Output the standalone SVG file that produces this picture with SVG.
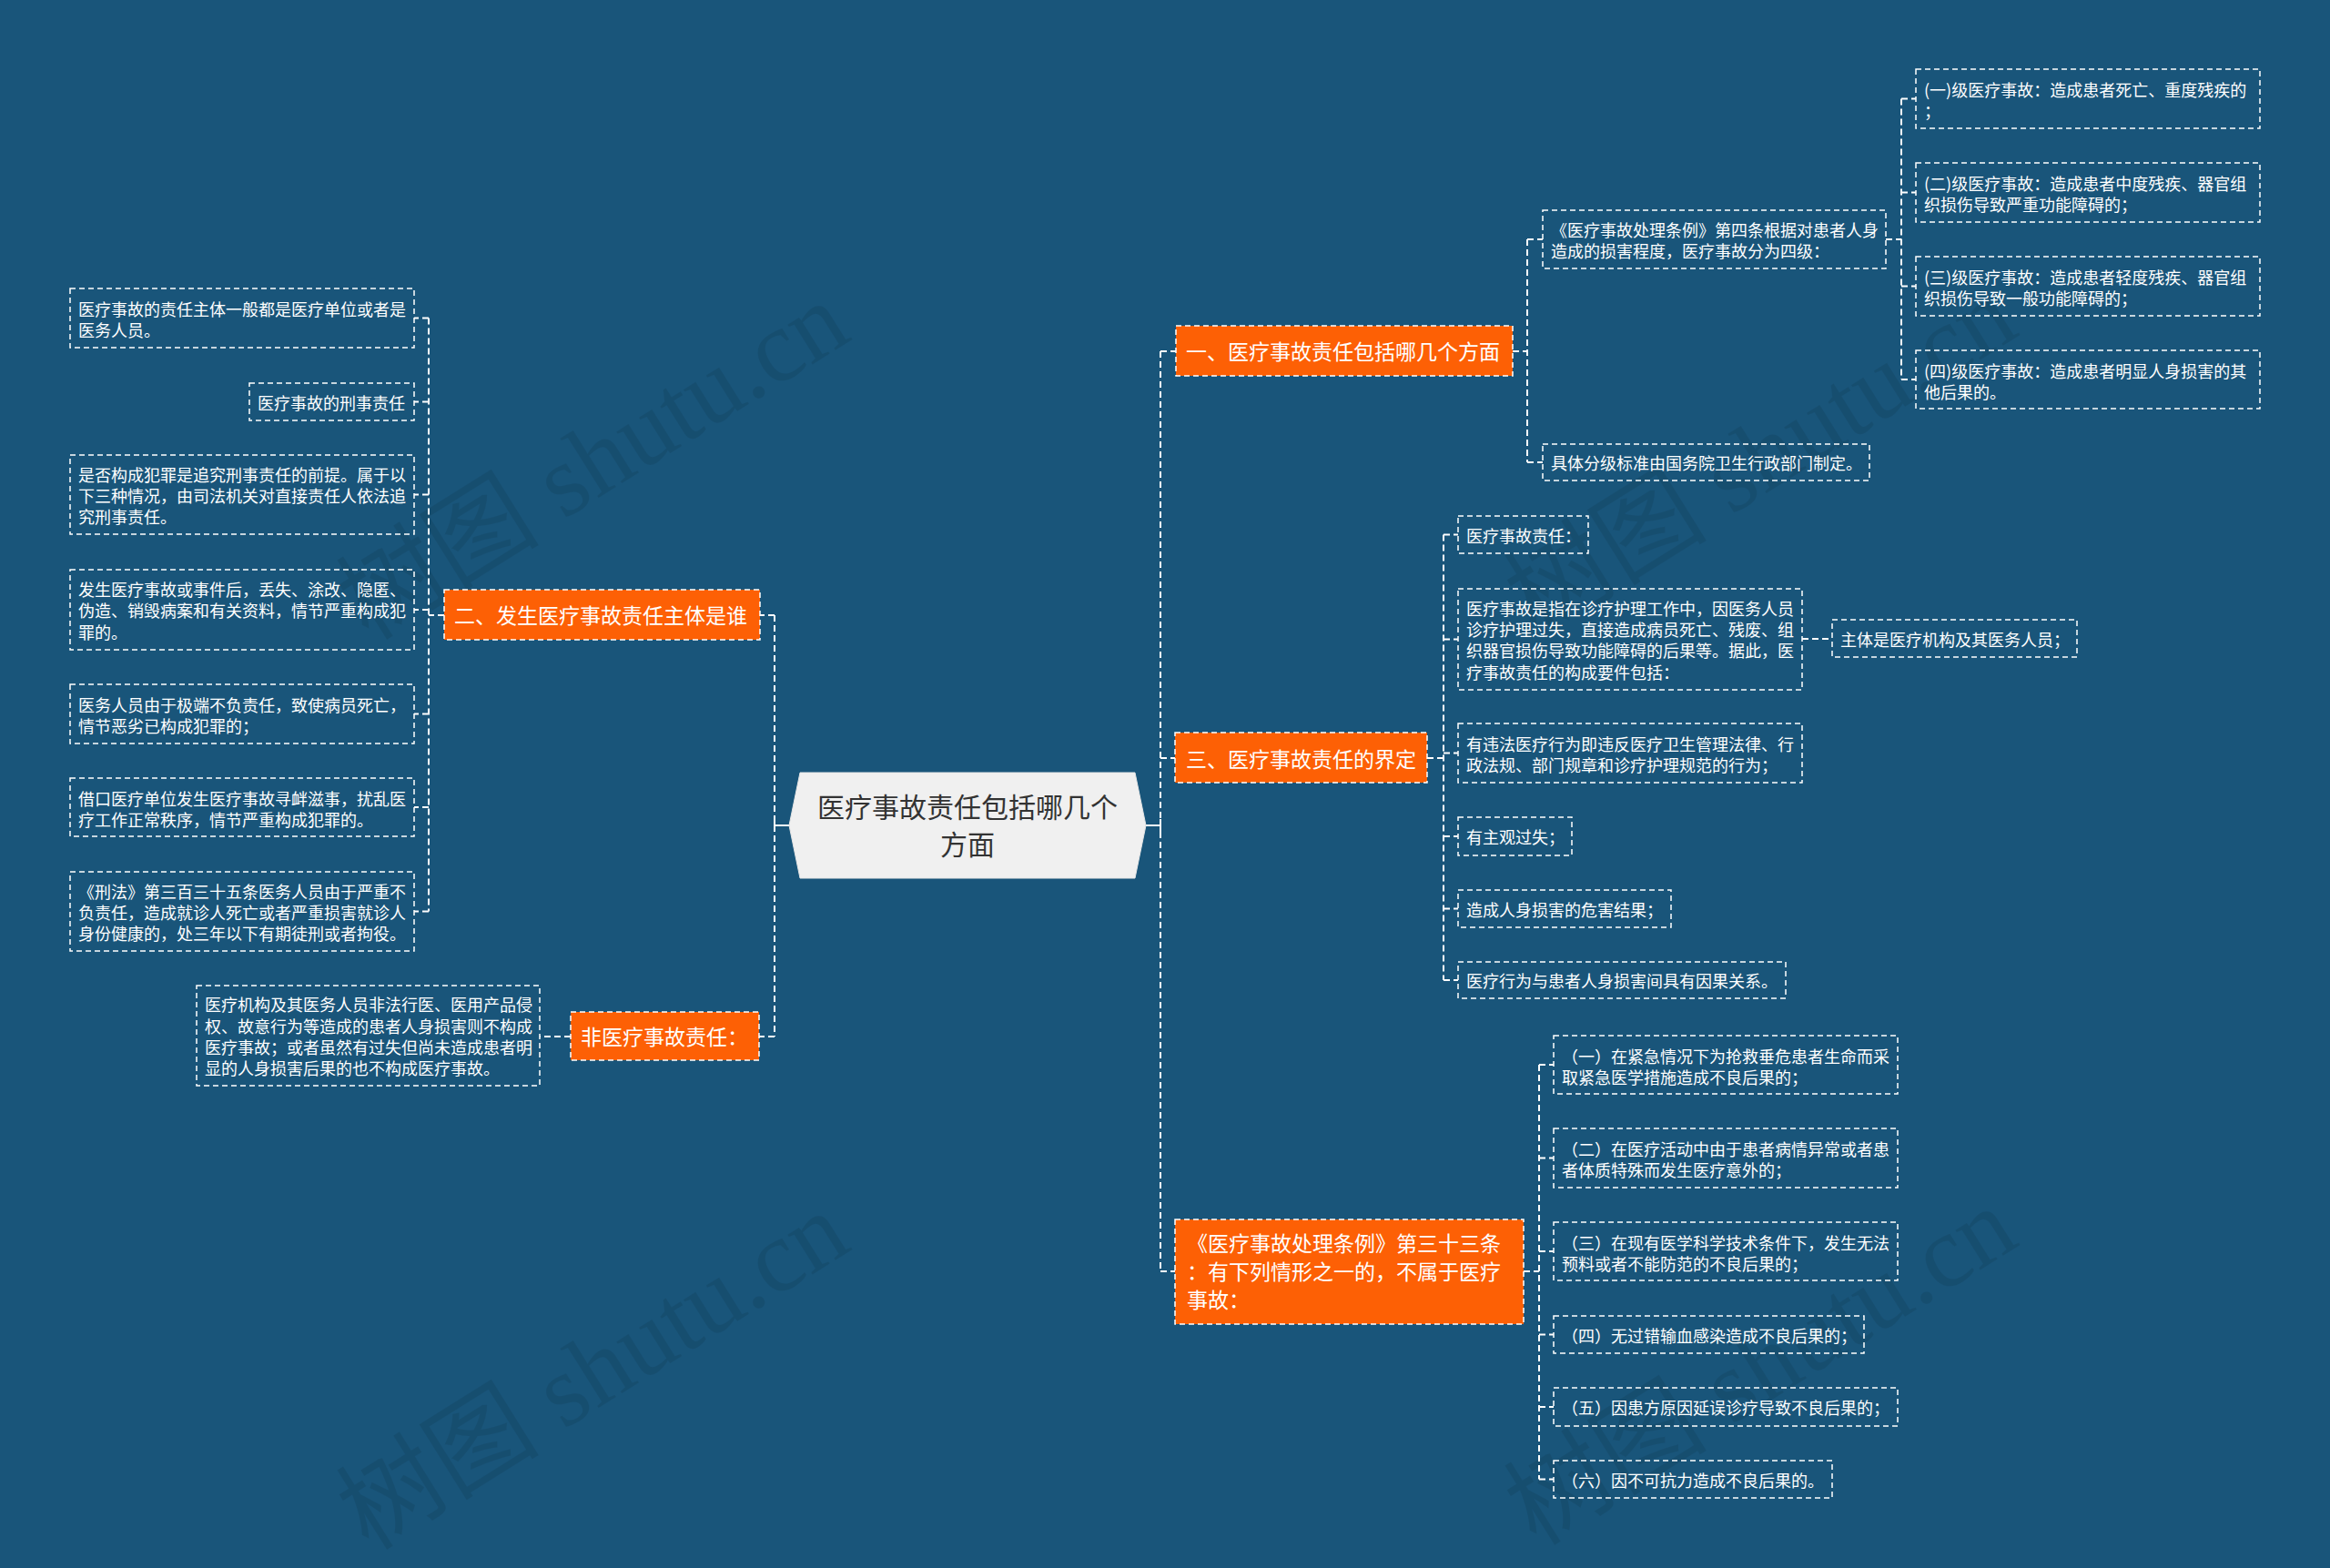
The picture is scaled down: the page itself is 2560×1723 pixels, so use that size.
<svg xmlns="http://www.w3.org/2000/svg" width="2560" height="1723" viewBox="0 0 2560 1723">
<style>
.t{font-family:"Noto Sans CJK SC","Noto Sans",sans-serif;fill:#ffffff;font-size:18px}
.ot{font-family:"Noto Sans CJK SC","Noto Sans",sans-serif;fill:#ffffff;font-size:23px}
.ct{font-family:"Noto Sans CJK SC","Noto Sans",sans-serif;fill:#333333;font-size:30px}
.b{fill:none;stroke:#ffffff;stroke-width:1.5;stroke-dasharray:6 4}
.o{fill:#fd6005;stroke:#ffffff;stroke-width:1.5;stroke-dasharray:6 4}
.c{fill:none;stroke:#ffffff;stroke-width:2;stroke-dasharray:7 4}
.s{fill:none;stroke:#ffffff;stroke-width:2}
.wm{font-family:"Liberation Serif","Noto Sans CJK SC",serif;font-size:112px;fill:#000000;opacity:0.08}
</style>
<rect x="0" y="0" width="2560" height="1723" fill="#19557a"/>
<g id="watermarks">
<text class="wm" transform="translate(405,705) rotate(-32)">树图 shutu.cn</text>
<text class="wm" transform="translate(1688,700) rotate(-32)">树图 shutu.cn</text>
<text class="wm" transform="translate(405,1705) rotate(-32)">树图 shutu.cn</text>
<text class="wm" transform="translate(1688,1700) rotate(-32)">树图 shutu.cn</text>
</g>
<g id="connectors">
<path class="s" d="M1259,907 H1275 M1275,900 V914 M867,907 H851 M851,900 V914"/>
<path class="c" d="M1275,386 V1397 M1275,386 H1292 M1275,833 H1291 M1275,1397 H1291"/>
<path class="c" d="M851,676 V1139 M851,676 H835 M851,1139 H834"/>
<path class="c" d="M1662,386 H1678 M1678,263 V508 M1678,263 H1695 M1678,508 H1695"/>
<path class="c" d="M2072,263 H2089 M2089,108.5 V417 M2089,108.5 H2105 M2089,211.5 H2105 M2089,314.5 H2105 M2089,417 H2105"/>
<path class="c" d="M1568,833 H1586 M1586,587.5 V1077 M1586,587.5 H1602 M1586,702.5 H1602 M1586,827.5 H1602 M1586,919 H1602 M1586,998.5 H1602 M1586,1077 H1602"/>
<path class="c" d="M1980,702 H2013"/>
<path class="c" d="M1674,1397 H1691 M1691,1170 V1625.5 M1691,1170 H1707 M1691,1272.5 H1707 M1691,1375 H1707 M1691,1466.5 H1707 M1691,1546 H1707 M1691,1625.5 H1707"/>
<path class="c" d="M488,676 H471 M471,349.5 V1001.5 M471,349.5 H455 M471,441.5 H455 M471,543.5 H455 M471,670 H455 M471,784.5 H455 M471,887 H455 M471,1001.5 H455"/>
<path class="c" d="M627,1139 H593"/>
</g>
<g id="center">
<polygon points="879,849 1247,849 1259,907 1247,965 879,965 867,907" fill="#f0f0f0" stroke="#e6e6e6" stroke-width="1"/>
<text class="ct" x="1063" y="898" text-anchor="middle">医疗事故责任包括哪几个</text>
<text class="ct" x="1063" y="939" text-anchor="middle">方面</text>
</g>
<g id="n1">
<rect class="o" x="1292" y="358" width="370" height="55"/>
<text class="ot" x="1303" y="395">一、医疗事故责任包括哪几个方面</text>
</g>
<g id="n1a">
<rect class="b" x="1695" y="231" width="377" height="64"/>
<text class="t" x="1704" y="260">《医疗事故处理条例》第四条根据对患者人身</text>
<text class="t" x="1704" y="283">造成的损害程度，医疗事故分为四级：</text>
</g>
<g id="n1a1">
<rect class="b" x="2105" y="76" width="378" height="65"/>
<text class="t" x="2114" y="106">(一)级医疗事故：造成患者死亡、重度残疾的</text>
<text class="t" x="2114" y="129">；</text>
</g>
<g id="n1a2">
<rect class="b" x="2105" y="179" width="378" height="65"/>
<text class="t" x="2114" y="209">(二)级医疗事故：造成患者中度残疾、器官组</text>
<text class="t" x="2114" y="232">织损伤导致严重功能障碍的；</text>
</g>
<g id="n1a3">
<rect class="b" x="2105" y="282" width="378" height="65"/>
<text class="t" x="2114" y="312">(三)级医疗事故：造成患者轻度残疾、器官组</text>
<text class="t" x="2114" y="335">织损伤导致一般功能障碍的；</text>
</g>
<g id="n1a4">
<rect class="b" x="2105" y="385" width="378" height="64"/>
<text class="t" x="2114" y="415">(四)级医疗事故：造成患者明显人身损害的其</text>
<text class="t" x="2114" y="438">他后果的。</text>
</g>
<g id="n1b">
<rect class="b" x="1695" y="488" width="359" height="40"/>
<text class="t" x="1704" y="516">具体分级标准由国务院卫生行政部门制定。</text>
</g>
<g id="n3">
<rect class="o" x="1291" y="805" width="277" height="55"/>
<text class="ot" x="1303" y="843">三、医疗事故责任的界定</text>
</g>
<g id="n3a">
<rect class="b" x="1602" y="567" width="143" height="41"/>
<text class="t" x="1611" y="596">医疗事故责任：</text>
</g>
<g id="n3b">
<rect class="b" x="1602" y="647" width="378" height="111"/>
<text class="t" x="1611" y="676">医疗事故是指在诊疗护理工作中，因医务人员</text>
<text class="t" x="1611" y="699">诊疗护理过失，直接造成病员死亡、残废、组</text>
<text class="t" x="1611" y="722">织器官损伤导致功能障碍的后果等。据此，医</text>
<text class="t" x="1611" y="746">疗事故责任的构成要件包括：</text>
</g>
<g id="n3b1">
<rect class="b" x="2013" y="681" width="269" height="41"/>
<text class="t" x="2022" y="710">主体是医疗机构及其医务人员；</text>
</g>
<g id="n3c">
<rect class="b" x="1602" y="795" width="378" height="65"/>
<text class="t" x="1611" y="825">有违法医疗行为即违反医疗卫生管理法律、行</text>
<text class="t" x="1611" y="848">政法规、部门规章和诊疗护理规范的行为；</text>
</g>
<g id="n3d">
<rect class="b" x="1602" y="898" width="125" height="42"/>
<text class="t" x="1611" y="927">有主观过失；</text>
</g>
<g id="n3e">
<rect class="b" x="1602" y="978" width="234" height="41"/>
<text class="t" x="1611" y="1007">造成人身损害的危害结果；</text>
</g>
<g id="n3f">
<rect class="b" x="1602" y="1057" width="360" height="40"/>
<text class="t" x="1611" y="1085">医疗行为与患者人身损害间具有因果关系。</text>
</g>
<g id="n4">
<rect class="o" x="1291" y="1340" width="383" height="115"/>
<text class="ot" x="1304" y="1375">《医疗事故处理条例》第三十三条</text>
<text class="ot" x="1304" y="1406">：有下列情形之一的，不属于医疗</text>
<text class="ot" x="1304" y="1437">事故：</text>
</g>
<g id="n4a">
<rect class="b" x="1707" y="1138" width="378" height="64"/>
<text class="t" x="1716" y="1168">（一）在紧急情况下为抢救垂危患者生命而采</text>
<text class="t" x="1716" y="1191">取紧急医学措施造成不良后果的；</text>
</g>
<g id="n4b">
<rect class="b" x="1707" y="1240" width="378" height="65"/>
<text class="t" x="1716" y="1270">（二）在医疗活动中由于患者病情异常或者患</text>
<text class="t" x="1716" y="1293">者体质特殊而发生医疗意外的；</text>
</g>
<g id="n4c">
<rect class="b" x="1707" y="1343" width="378" height="64"/>
<text class="t" x="1716" y="1373">（三）在现有医学科学技术条件下，发生无法</text>
<text class="t" x="1716" y="1396">预料或者不能防范的不良后果的；</text>
</g>
<g id="n4d">
<rect class="b" x="1707" y="1446" width="341" height="41"/>
<text class="t" x="1716" y="1475">（四）无过错输血感染造成不良后果的；</text>
</g>
<g id="n4e">
<rect class="b" x="1707" y="1525" width="378" height="42"/>
<text class="t" x="1716" y="1554">（五）因患方原因延误诊疗导致不良后果的；</text>
</g>
<g id="n4f">
<rect class="b" x="1707" y="1605" width="306" height="41"/>
<text class="t" x="1716" y="1634">（六）因不可抗力造成不良后果的。</text>
</g>
<g id="n2">
<rect class="o" x="488" y="648" width="347" height="55"/>
<text class="ot" x="499" y="685">二、发生医疗事故责任主体是谁</text>
</g>
<g id="n2a">
<rect class="b" x="77" y="317" width="378" height="65"/>
<text class="t" x="86" y="347">医疗事故的责任主体一般都是医疗单位或者是</text>
<text class="t" x="86" y="370">医务人员。</text>
</g>
<g id="n2b">
<rect class="b" x="274" y="421" width="181" height="41"/>
<text class="t" x="283" y="450">医疗事故的刑事责任</text>
</g>
<g id="n2c">
<rect class="b" x="77" y="500" width="378" height="87"/>
<text class="t" x="86" y="529">是否构成犯罪是追究刑事责任的前提。属于以</text>
<text class="t" x="86" y="552">下三种情况，由司法机关对直接责任人依法追</text>
<text class="t" x="86" y="575">究刑事责任。</text>
</g>
<g id="n2d">
<rect class="b" x="77" y="626" width="378" height="88"/>
<text class="t" x="86" y="655">发生医疗事故或事件后，丢失、涂改、隐匿、</text>
<text class="t" x="86" y="678">伪造、销毁病案和有关资料，情节严重构成犯</text>
<text class="t" x="86" y="702">罪的。</text>
</g>
<g id="n2e">
<rect class="b" x="77" y="752" width="378" height="65"/>
<text class="t" x="86" y="782">医务人员由于极端不负责任，致使病员死亡，</text>
<text class="t" x="86" y="805">情节恶劣已构成犯罪的；</text>
</g>
<g id="n2f">
<rect class="b" x="77" y="855" width="378" height="64"/>
<text class="t" x="86" y="885">借口医疗单位发生医疗事故寻衅滋事，扰乱医</text>
<text class="t" x="86" y="908">疗工作正常秩序，情节严重构成犯罪的。</text>
</g>
<g id="n2g">
<rect class="b" x="77" y="958" width="378" height="87"/>
<text class="t" x="86" y="987">《刑法》第三百三十五条医务人员由于严重不</text>
<text class="t" x="86" y="1010">负责任，造成就诊人死亡或者严重损害就诊人</text>
<text class="t" x="86" y="1033">身份健康的，处三年以下有期徒刑或者拘役。</text>
</g>
<g id="n5">
<rect class="o" x="627" y="1112" width="207" height="53"/>
<text class="ot" x="638" y="1148">非医疗事故责任：</text>
</g>
<g id="n5a">
<rect class="b" x="216" y="1083" width="377" height="110"/>
<text class="t" x="225" y="1111">医疗机构及其医务人员非法行医、医用产品侵</text>
<text class="t" x="225" y="1135">权、故意行为等造成的患者人身损害则不构成</text>
<text class="t" x="225" y="1158">医疗事故；或者虽然有过失但尚未造成患者明</text>
<text class="t" x="225" y="1181">显的人身损害后果的也不构成医疗事故。</text>
</g>
</svg>
